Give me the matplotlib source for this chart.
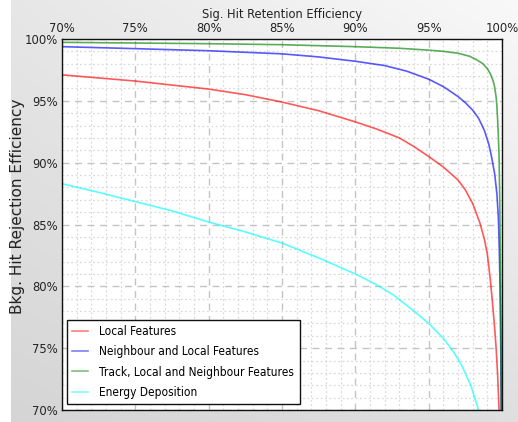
import numpy as np
import matplotlib
matplotlib.use("Agg")
import matplotlib.pyplot as plt
from matplotlib.ticker import MultipleLocator, FuncFormatter
from matplotlib.font_manager import FontProperties

# ---- data (signal retention %, background rejection %) ----
local_x = [70, 75, 80, 82.5, 85, 87.5, 90, 91.5, 93, 94, 95, 96, 97, 97.5, 98, 98.5, 98.8,
           99.0, 99.2, 99.35, 99.5, 99.6, 99.7, 99.8]
local_y = [97.1, 96.6, 95.95, 95.5, 94.9, 94.2, 93.3, 92.7, 92.0, 91.3, 90.5, 89.65, 88.6, 87.8,
           86.7, 85.1, 83.8, 82.6, 80.6, 78.7, 76.6, 75.0, 72.9, 70.0]

neigh_x = [70, 75, 80, 85, 87.5, 90, 92, 93.5, 95, 96, 97, 97.5, 98, 98.4, 98.8, 99.1, 99.3,
           99.5, 99.65, 99.75, 99.82, 99.87, 99.92, 99.95]
neigh_y = [99.38, 99.22, 99.05, 98.8, 98.55, 98.2, 97.85, 97.4, 96.75, 96.15, 95.35, 94.85, 94.25,
           93.6, 92.6, 91.5, 90.4, 89.1, 87.5, 85.6, 82.8, 79.5, 74.5, 70.0]

track_x = [70, 80, 85, 90, 93, 95, 96, 97, 97.8, 98.3, 98.7, 99.0, 99.2, 99.4, 99.5, 99.6,
           99.65, 99.7, 99.75, 99.8, 99.84, 99.88, 99.92, 99.95]
track_y = [99.73, 99.62, 99.54, 99.38, 99.25, 99.1, 99.0, 98.85, 98.6, 98.3, 98.0, 97.6, 97.2,
           96.6, 96.1, 95.3, 94.6, 93.5, 92.2, 90.5, 87.5, 83.0, 77.0, 70.0]

energy_x = [70, 72.5, 75, 77.5, 80, 82.5, 85, 87.5, 90, 91.5, 92.6, 94, 95, 96, 96.7, 97.3, 97.9, 98.4]
energy_y = [88.3, 87.6, 86.85, 86.1, 85.2, 84.4, 83.5, 82.3, 81.0, 80.1, 79.3, 78.0, 77.0, 75.8,
            74.7, 73.5, 71.9, 70.0]

labels = ["Local Features", "Neighbour and Local Features",
          "Track, Local and Neighbour Features", "Energy Deposition"]
colors = ["red", "blue", "green", "cyan"]

plt.rcParams['font.family'] = ['DejaVu Sans']
TXT = '#222222'

def cond(size):
    return FontProperties(family='DejaVu Sans', stretch='condensed', size=size)

fig = plt.figure(figsize=(5.18, 4.22), dpi=100)
fig.patch.set_facecolor("white")

# gradient background
bg = fig.add_axes([11/518, 0, 1 - 11/518, 1], zorder=-10)
xx = np.linspace(0, 1, 200)
yy = np.linspace(0, 1, 200)
X, Y = np.meshgrid(xx, yy)  # Y=0 at top
tl, tr, bl, br = 0.905, 0.975, 0.835, 0.875
G = (tl*(1-X)*(1-Y) + tr*X*(1-Y) + bl*(1-X)*Y + br*X*Y)
bg.imshow(np.dstack([G, G, G]), aspect='auto', extent=(0, 1, 0, 1), origin='upper')
bg.set_axis_off()

ax = fig.add_axes([62/518, 1 - 410/422, 440/518, 371/422])
ax.set_facecolor("white")

series = [(local_x, local_y), (neigh_x, neigh_y), (track_x, track_y), (energy_x, energy_y)]
for (sx, sy), lab, c in zip(series, labels, colors):
    ax.plot(sx, sy, color=c, lw=1.2, alpha=0.65, label=lab)

ax.set_xlim(70, 100)
ax.set_ylim(70, 100)
ax.xaxis.set_major_locator(MultipleLocator(5))
ax.xaxis.set_minor_locator(MultipleLocator(1))
ax.yaxis.set_major_locator(MultipleLocator(5))
ax.yaxis.set_minor_locator(MultipleLocator(1))
pct = FuncFormatter(lambda v, p: f"{v:.0f}%")
ax.xaxis.set_major_formatter(pct)
ax.yaxis.set_major_formatter(pct)
ax.xaxis.tick_top()
ax.xaxis.set_label_position('top')
ax.tick_params(which='both', length=0, colors=TXT)
ax.tick_params(axis='x', pad=3)
ax.tick_params(axis='y', pad=3)
for lbl in ax.get_xticklabels() + ax.get_yticklabels():
    lbl.set_fontproperties(cond(9.3))

ax.grid(which='major', color='#c4c4c4', linestyle=(0, (5, 4)), linewidth=1.0)
ax.grid(which='minor', color='#dadada', linestyle=(0, (1.5, 2)), linewidth=0.9)
ax.set_axisbelow(True)
for s in ax.spines.values():
    s.set_color('#111111')
    s.set_linewidth(1.0)

ax.set_xlabel("Sig. Hit Retention Efficiency", fontproperties=cond(9.2), color=TXT, labelpad=3)
ax.set_ylabel("Bkg. Hit Rejection Efficiency", fontproperties=FontProperties(family='DejaVu Sans', size=11),
              color=TXT)
ax.yaxis.set_label_coords(-0.084, 0.55)

leg = ax.legend(loc='lower left', bbox_to_anchor=(0.0114, 0.016), borderaxespad=0,
                prop=cond(8.6), fancybox=False, frameon=True, handlelength=1.3,
                handletextpad=0.95, labelspacing=0.6, borderpad=0.45, framealpha=1)
leg.get_frame().set_edgecolor('#111111')
leg.get_frame().set_linewidth(1.0)
for h in leg.get_lines():
    h.set_alpha(0.5)

fig.savefig("out.png", dpi=100)
